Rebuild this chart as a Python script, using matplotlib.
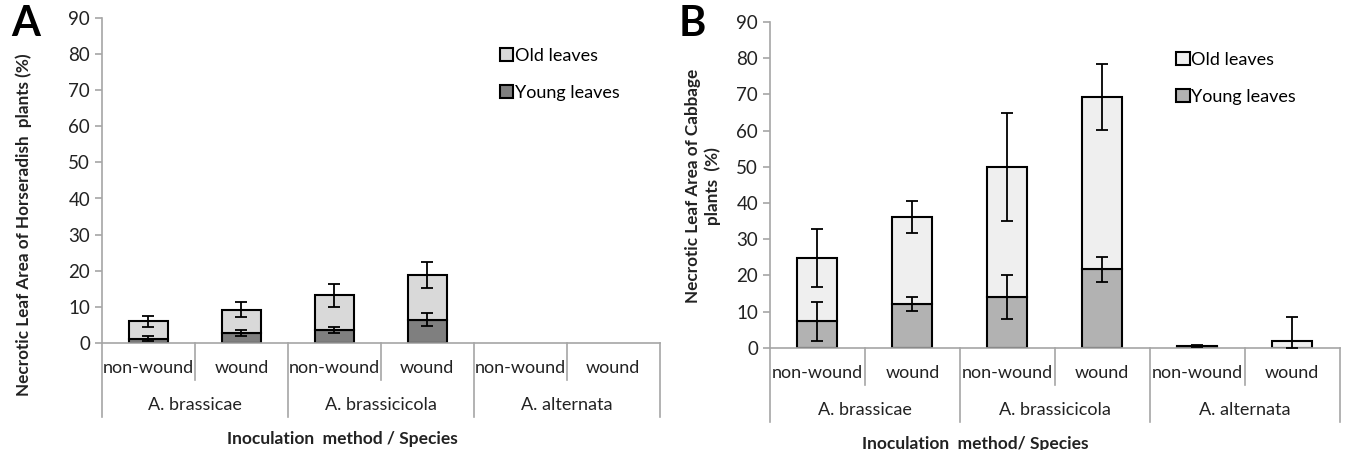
import matplotlib.pyplot as plt
import numpy as np

methods = ['non-wound', 'wound', 'non-wound', 'wound', 'non-wound', 'wound']
species = ['A. brassicae', 'A. brassicicola', 'A. alternata']

# panel A - horseradish
a_total = [6.0, 9.2, 13.2, 18.8, 0, 0]
a_young = [1.2, 2.8, 3.6, 6.4, 0, 0]
a_total_err = [1.5, 2.1, 3.2, 3.5, 0, 0]
a_young_err = [0.6, 0.9, 0.9, 1.8, 0, 0]

# panel B - cabbage
b_total = [24.8, 36.1, 50.0, 69.3, 0.5, 1.8]
b_young = [7.3, 12.1, 14.0, 21.7, 0.2, 0]
b_total_err = [8.0, 4.5, 15.0, 9.0, 0.3, 6.7]
b_young_err = [5.5, 2.0, 6.0, 3.5, 0, 0]

plt.rcParams['font.family'] = ['Lato', 'DejaVu Sans']
GRAY = '#a6a6a6'
TXT = '#222222'


def panel(ax, total, young, terr, yerr, c_old, c_young, title, title_x):
    x = np.arange(len(methods))
    total = np.array(total)
    young = np.array(young)
    terr = np.array(terr)
    yerr = np.array(yerr)
    w = 0.42
    # only draw bars that have a value
    m = total > 0
    ax.bar(x[m], young[m], w, color=c_young, edgecolor='black', lw=1.5, label='Young leaves', zorder=2)
    ax.bar(x[m], (total - young)[m], w, bottom=young[m], color=c_old, edgecolor='black', lw=1.5,
           label='Old leaves', zorder=2)
    # error bars (lower part clipped at zero)
    lo_t = np.minimum(terr, total)
    ax.errorbar(x[m], total[m], yerr=[lo_t[m], terr[m]], fmt='none', ecolor='black', capsize=4,
                elinewidth=1.3, capthick=1.3, zorder=3)
    m2 = yerr > 0
    ax.errorbar(x[m2], young[m2], yerr=yerr[m2], fmt='none', ecolor='black', capsize=4,
                elinewidth=1.3, capthick=1.3, zorder=3)

    ax.set_ylim(0, 90)
    ax.set_yticks(range(0, 91, 10))
    ax.set_xlim(-0.5, len(methods) - 0.5)
    ax.set_xticks([])
    for s in ['top', 'right']:
        ax.spines[s].set_visible(False)
    for s in ['left', 'bottom']:
        ax.spines[s].set_color(GRAY)
        ax.spines[s].set_linewidth(1.2)
    ax.tick_params(axis='y', colors=GRAY, labelcolor=TXT, labelsize=13.5, length=5, width=1.2)

    # two-level category axis
    tr = ax.get_xaxis_transform()
    for i, lab in enumerate(methods):
        ax.text(i, -0.077, lab, transform=tr, ha='center', va='center', fontsize=13, color=TXT)
    for i in range(len(methods) + 1):
        bottom = -0.228 if i % 2 == 0 else -0.114
        ax.plot([i - 0.5, i - 0.5], [0, bottom], transform=tr, color=GRAY, lw=1.2, clip_on=False)
    for j, sp in enumerate(species):
        ax.text(2 * j + 0.5, -0.19, sp, transform=tr, ha='center', va='center', fontsize=13,
                color=TXT)
    ax.text(title_x, -0.295, title, transform=tr, ha='center', va='center', fontsize=12.5,
            fontweight='bold', color=TXT)

    h, l = ax.get_legend_handles_labels()
    ax.legend(h[::-1], l[::-1], loc='upper left', bbox_to_anchor=(0.70, 0.93), frameon=False,
              fontsize=13, labelspacing=1.15, handlelength=0.75, handleheight=0.75,
              handletextpad=0.1, borderaxespad=0)


fig = plt.figure(figsize=(13.47, 4.5), dpi=100)
ax1 = fig.add_axes([0.0757, 0.238, 0.414, 0.722])
ax2 = fig.add_axes([0.5716, 0.227, 0.423, 0.724])

panel(ax1, a_total, a_young, a_total_err, a_young_err, '#d9d9d9', '#7f7f7f',
      'Inoculation  method / Species', 2.09)
panel(ax2, b_total, b_young, b_total_err, b_young_err, '#efefef', '#b2b2b2',
      'Inoculation  method/ Species', 1.66)

fig.text(24 / 1347, 1 - 225 / 450, 'Necrotic Leaf Area of Horseradish  plants (%)', rotation=90,
         ha='center', va='center', fontsize=12.3, fontweight='bold', color=TXT)
fig.text(703 / 1347, 1 - 186 / 450, 'Necrotic Leaf Area of Cabbage\nplants  (%)', rotation=90,
         ha='center', va='center', fontsize=12.3, fontweight='bold', color=TXT,
         multialignment='center', linespacing=1.3)

fig.text(26 / 1347, 1 - 24 / 450, 'A', ha='center', va='center', fontsize=30, fontweight='bold')
fig.text(692 / 1347, 1 - 24 / 450, 'B', ha='center', va='center', fontsize=30, fontweight='bold')

fig.savefig('out.png', dpi=100)
